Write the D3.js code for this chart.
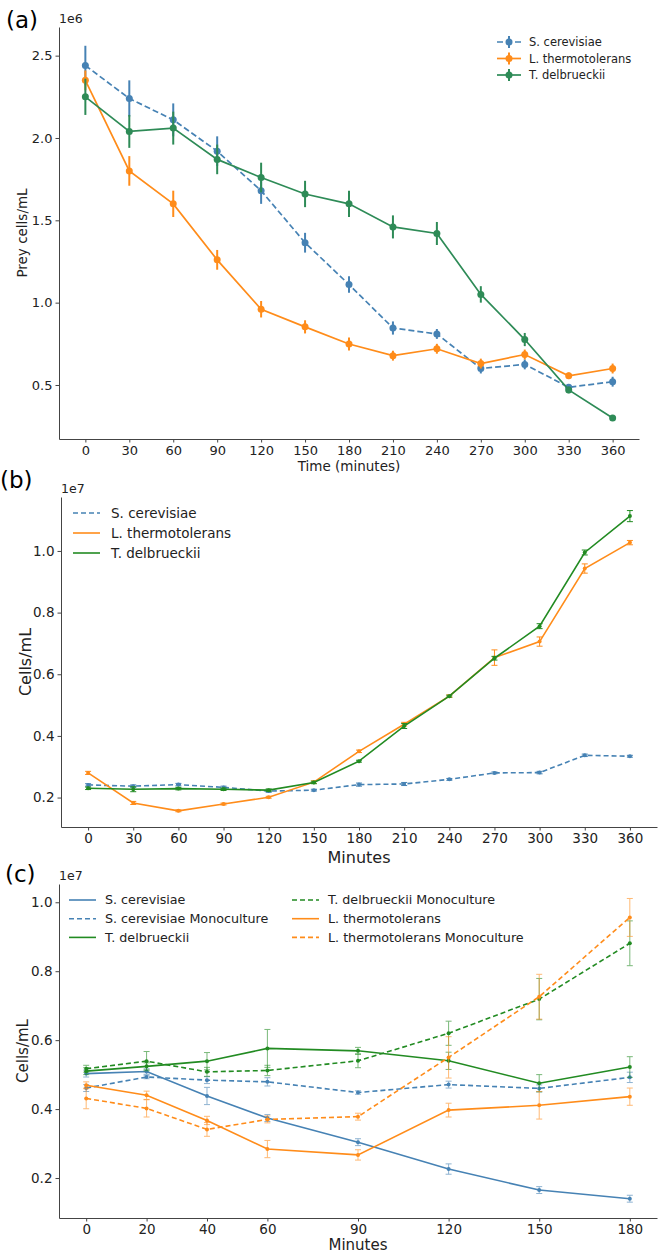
<!DOCTYPE html>
<html>
<head>
<meta charset="utf-8">
<script src="https://cdn.jsdelivr.net/npm/d3@7"></script>
<style>
  body { margin: 0; background: #fff; }
  svg { font-family: "DejaVu Sans", sans-serif; }
</style>
</head>
<body>
<div id="chart"></div>
<script>
// ---- data (values in units of the axis multiplier: 1e6 for a, 1e7 for b and c)
const minutesA = [0, 30, 60, 90, 120, 150, 180, 210, 240, 270, 300, 330, 360];

const scA = [2.44, 2.24, 2.11, 1.92, 1.68, 1.364, 1.11, 0.846, 0.81, 0.60, 0.625, 0.486, 0.52];
const scAErr = [0.12, 0.11, 0.10, 0.09, 0.08, 0.06, 0.05, 0.04, 0.03, 0.03, 0.03, 0.02, 0.03];
const ltA = [2.35, 1.80, 1.60, 1.26, 0.96, 0.853, 0.749, 0.678, 0.72, 0.63, 0.685, 0.556, 0.60];
const ltAErr = [0.06, 0.09, 0.08, 0.06, 0.05, 0.04, 0.04, 0.03, 0.03, 0.03, 0.03, 0.02, 0.03];
const tdA = [2.25, 2.04, 2.06, 1.87, 1.76, 1.66, 1.60, 1.46, 1.42, 1.05, 0.776, 0.47, 0.30];
const tdAErr = [0.11, 0.10, 0.10, 0.09, 0.09, 0.08, 0.08, 0.07, 0.07, 0.05, 0.04, 0.02, 0.01];

const scB = [0.241, 0.237, 0.242, 0.233, 0.221, 0.224, 0.242, 0.244, 0.259, 0.28, 0.281, 0.337, 0.334];
const scBErr = [0.004, 0.004, 0.004, 0.004, 0.004, 0.003, 0.005, 0.005, 0.003, 0.003, 0.004, 0.004, 0.003];
const ltB = [0.28, 0.1825, 0.157, 0.179, 0.201, 0.25, 0.35, 0.438, 0.529, 0.654, 0.706, 0.943, 1.027];
const ltBErr = [0.005, 0.005, 0.003, 0.003, 0.003, 0.004, 0.004, 0.006, 0.004, 0.025, 0.015, 0.015, 0.007];
const tdB = [0.23, 0.227, 0.229, 0.227, 0.224, 0.249, 0.318, 0.432, 0.529, 0.652, 0.756, 0.995, 1.113];
const tdBErr = [0.004, 0.008, 0.004, 0.004, 0.004, 0.004, 0.003, 0.008, 0.003, 0.006, 0.008, 0.008, 0.018];

const minutesC = [0, 20, 40, 60, 90, 120, 150, 180];
const scC = [0.503, 0.509, 0.438, 0.374, 0.304, 0.226, 0.165, 0.14];
const scCErr = [0.01, 0.008, 0.025, 0.01, 0.01, 0.015, 0.01, 0.01];
const scMonoC = [0.461, 0.493, 0.484, 0.479, 0.448, 0.471, 0.46, 0.492];
const scMonoCErr = [0.01, 0.005, 0.01, 0.012, 0.005, 0.01, 0.01, 0.015];
const tdC = [0.51, 0.524, 0.539, 0.576, 0.569, 0.54, 0.475, 0.522];
const tdCErr = [0.01, 0.01, 0.025, 0.055, 0.01, 0.025, 0.025, 0.03];
const tdMonoC = [0.517, 0.539, 0.508, 0.512, 0.54, 0.62, 0.719, 0.881];
const tdMonoCErr = [0.01, 0.028, 0.013, 0.015, 0.02, 0.035, 0.06, 0.065];
const ltC = [0.469, 0.44, 0.367, 0.284, 0.267, 0.397, 0.411, 0.436];
const ltCErr = [0.01, 0.012, 0.012, 0.025, 0.015, 0.02, 0.04, 0.025];
const ltMonoC = [0.431, 0.402, 0.341, 0.37, 0.378, 0.55, 0.726, 0.956];
const ltMonoCErr = [0.03, 0.025, 0.02, 0.01, 0.01, 0.06, 0.065, 0.055];

const ticksA = [0.5, 1.0, 1.5, 2.0, 2.5];
const ticksBC = [0.2, 0.4, 0.6, 0.8, 1.0];
const xTicksC = [0, 20, 40, 60, 90, 120, 150, 180];

const blue = "#4682b4", orange = "#ff8c1a", greenA = "#2e8b57", green = "#228b22";

const svg = d3.select("#chart").append("svg")
    .attr("width", 661)
    .attr("height", 1254);

function drawPanel(p) {
    const x = d3.scaleLinear().domain(p.xDomain).range([p.left, p.right]);
    const y = d3.scaleLinear().domain(p.yDomain).range([p.bottom, p.top]);
    const g = svg.append("g");

    // axes (left and bottom spines only)
    const xAxis = g.append("g")
        .attr("transform", `translate(0,${p.bottom})`)
        .call(d3.axisBottom(x).tickValues(p.xTicks).tickSize(3.5).tickPadding(3).tickSizeOuter(0));
    const yAxis = g.append("g")
        .attr("transform", `translate(${p.left},0)`)
        .call(d3.axisLeft(y).tickValues(p.yTicks).tickFormat(d3.format(".1f")).tickSize(3.5).tickPadding(3).tickSizeOuter(0));
    [xAxis, yAxis].forEach(a => {
        a.select(".domain").attr("stroke", "#444").attr("stroke-width", 1);
        a.selectAll(".tick line").attr("stroke", "#444");
        a.selectAll(".tick text").attr("fill", "#222").style("font-size", p.tickFont + "px")
            .style("font-family", "DejaVu Sans");
    });

    // multiplier, axis labels and panel letter
    g.append("text").attr("x", p.left).attr("y", p.top - 4)
        .style("font-size", "12.5px").attr("fill", "#222").text(p.mult);
    g.append("text")
        .attr("transform", `translate(${p.yLabelX},${(p.top + p.bottom) / 2}) rotate(-90)`)
        .attr("text-anchor", "middle").style("font-size", p.labelFont + "px").attr("fill", "#222")
        .text(p.yLabel);
    g.append("text").attr("x", (p.left + p.right) / 2).attr("y", p.xLabelY)
        .attr("text-anchor", "middle").style("font-size", p.labelFont + "px").attr("fill", "#222")
        .text(p.xLabel);
    g.append("text").attr("x", p.letterX).attr("y", p.letterY)
        .style("font-size", "23px").attr("fill", "#000").text(p.letter);

    const line = d3.line().x(d => x(d[0])).y(d => y(d[1]));

    p.series.forEach(s => {
        const pts = p.xs.map((t, i) => [t, s.values[i], s.err[i]]);
        const eg = g.append("g").attr("opacity", p.errAlpha);
        eg.selectAll("line.err").data(pts).join("line")
            .attr("x1", d => x(d[0])).attr("x2", d => x(d[0]))
            .attr("y1", d => y(d[1] - d[2])).attr("y2", d => y(d[1] + d[2]))
            .attr("stroke", s.color).attr("stroke-width", p.errWidth);
        if (p.cap > 0) {
            [-1, 1].forEach(sign => {
                eg.selectAll(null).data(pts).join("line")
                    .attr("x1", d => x(d[0]) - p.cap).attr("x2", d => x(d[0]) + p.cap)
                    .attr("y1", d => y(d[1] + sign * d[2])).attr("y2", d => y(d[1] + sign * d[2]))
                    .attr("stroke", s.color).attr("stroke-width", 1);
            });
        }
        g.append("path").datum(pts)
            .attr("d", line).attr("fill", "none")
            .attr("stroke", s.color).attr("stroke-width", p.lineWidth)
            .attr("stroke-dasharray", s.dashed ? p.dash : null);
        g.selectAll(null).data(pts).join("circle")
            .attr("cx", d => x(d[0])).attr("cy", d => y(d[1]))
            .attr("r", p.markerR).attr("fill", s.color);
    });

    // legend
    p.series.forEach((s, i) => {
        const col = Math.floor(i / p.legend.perCol);
        const row = i % p.legend.perCol;
        const lx = p.legend.x + col * p.legend.colGap;
        const ly = p.legend.y + row * p.legend.rowGap;
        g.append("line").attr("x1", lx).attr("x2", lx + p.legend.len)
            .attr("y1", ly).attr("y2", ly)
            .attr("stroke", s.color).attr("stroke-width", p.lineWidth)
            .attr("stroke-dasharray", s.dashed ? p.dash : null);
        if (p.legend.marker) {
            const cx = lx + p.legend.len / 2;
            g.append("line").attr("x1", cx).attr("x2", cx).attr("y1", ly - 6).attr("y2", ly + 6)
                .attr("stroke", s.color).attr("stroke-width", p.errWidth);
            g.append("circle").attr("cx", cx).attr("cy", ly).attr("r", p.markerR).attr("fill", s.color);
        }
        g.append("text").attr("x", lx + p.legend.len + p.legend.pad).attr("y", ly)
            .attr("dy", "0.35em").style("font-size", p.legend.font + "px").attr("fill", "#222")
            .text(s.name);
    });
}

drawPanel({
    left: 59, right: 639, top: 27, bottom: 439,
    xDomain: [-18, 378], yDomain: [0.172, 2.674],
    xTicks: minutesA, yTicks: ticksA, xs: minutesA,
    tickFont: 13, labelFont: 13.5, mult: "1e6",
    yLabel: "Prey cells/mL", yLabelX: 27, xLabel: "Time (minutes)", xLabelY: 471,
    letter: "(a)", letterX: 6, letterY: 28,
    lineWidth: 1.7, errWidth: 2, cap: 0, errAlpha: 1, markerR: 3.5, dash: "6,3",
    series: [
        { name: "S. cerevisiae", values: scA, err: scAErr, color: blue, dashed: true },
        { name: "L. thermotolerans", values: ltA, err: ltAErr, color: orange, dashed: false },
        { name: "T. delbrueckii", values: tdA, err: tdAErr, color: greenA, dashed: false }
    ],
    legend: { x: 497, y: 42, rowGap: 16.5, len: 24, pad: 8, font: 11.5, perCol: 3, colGap: 0, marker: true }
});

drawPanel({
    left: 61, right: 657, top: 497, bottom: 827,
    xDomain: [-18, 378], yDomain: [0.1045, 1.175],
    xTicks: minutesA, yTicks: ticksBC, xs: minutesA,
    tickFont: 13.5, labelFont: 16, mult: "1e7",
    yLabel: "Cells/mL", yLabelX: 31, xLabel: "Minutes", xLabelY: 863,
    letter: "(b)", letterX: 0, letterY: 488,
    lineWidth: 1.6, errWidth: 1, cap: 3, errAlpha: 1, markerR: 2, dash: "5,3",
    series: [
        { name: "S. cerevisiae", values: scB, err: scBErr, color: blue, dashed: true },
        { name: "L. thermotolerans", values: ltB, err: ltBErr, color: orange, dashed: false },
        { name: "T. delbrueckii", values: tdB, err: tdBErr, color: green, dashed: false }
    ],
    legend: { x: 73, y: 513, rowGap: 20, len: 27, pad: 11, font: 13.5, perCol: 3, colGap: 0, marker: false }
});

drawPanel({
    left: 59, right: 657, top: 884, bottom: 1218,
    xDomain: [-9, 189], yDomain: [0.084, 1.053],
    xTicks: xTicksC, yTicks: ticksBC, xs: minutesC,
    tickFont: 13.5, labelFont: 15, mult: "1e7",
    yLabel: "Cells/mL", yLabelX: 28, xLabel: "Minutes", xLabelY: 1250,
    letter: "(c)", letterX: 5, letterY: 882,
    lineWidth: 1.6, errWidth: 1, cap: 3, errAlpha: 0.6, markerR: 2, dash: "5,3",
    series: [
        { name: "S. cerevisiae", values: scC, err: scCErr, color: blue, dashed: false },
        { name: "S. cerevisiae Monoculture", values: scMonoC, err: scMonoCErr, color: blue, dashed: true },
        { name: "T. delbrueckii", values: tdC, err: tdCErr, color: green, dashed: false },
        { name: "T. delbrueckii Monoculture", values: tdMonoC, err: tdMonoCErr, color: green, dashed: true },
        { name: "L. thermotolerans", values: ltC, err: ltCErr, color: orange, dashed: false },
        { name: "L. thermotolerans Monoculture", values: ltMonoC, err: ltMonoCErr, color: orange, dashed: true }
    ],
    legend: { x: 69, y: 900, rowGap: 18.7, len: 27, pad: 9, font: 12.7, perCol: 3, colGap: 223, marker: false }
});
</script>
</body>
</html>
